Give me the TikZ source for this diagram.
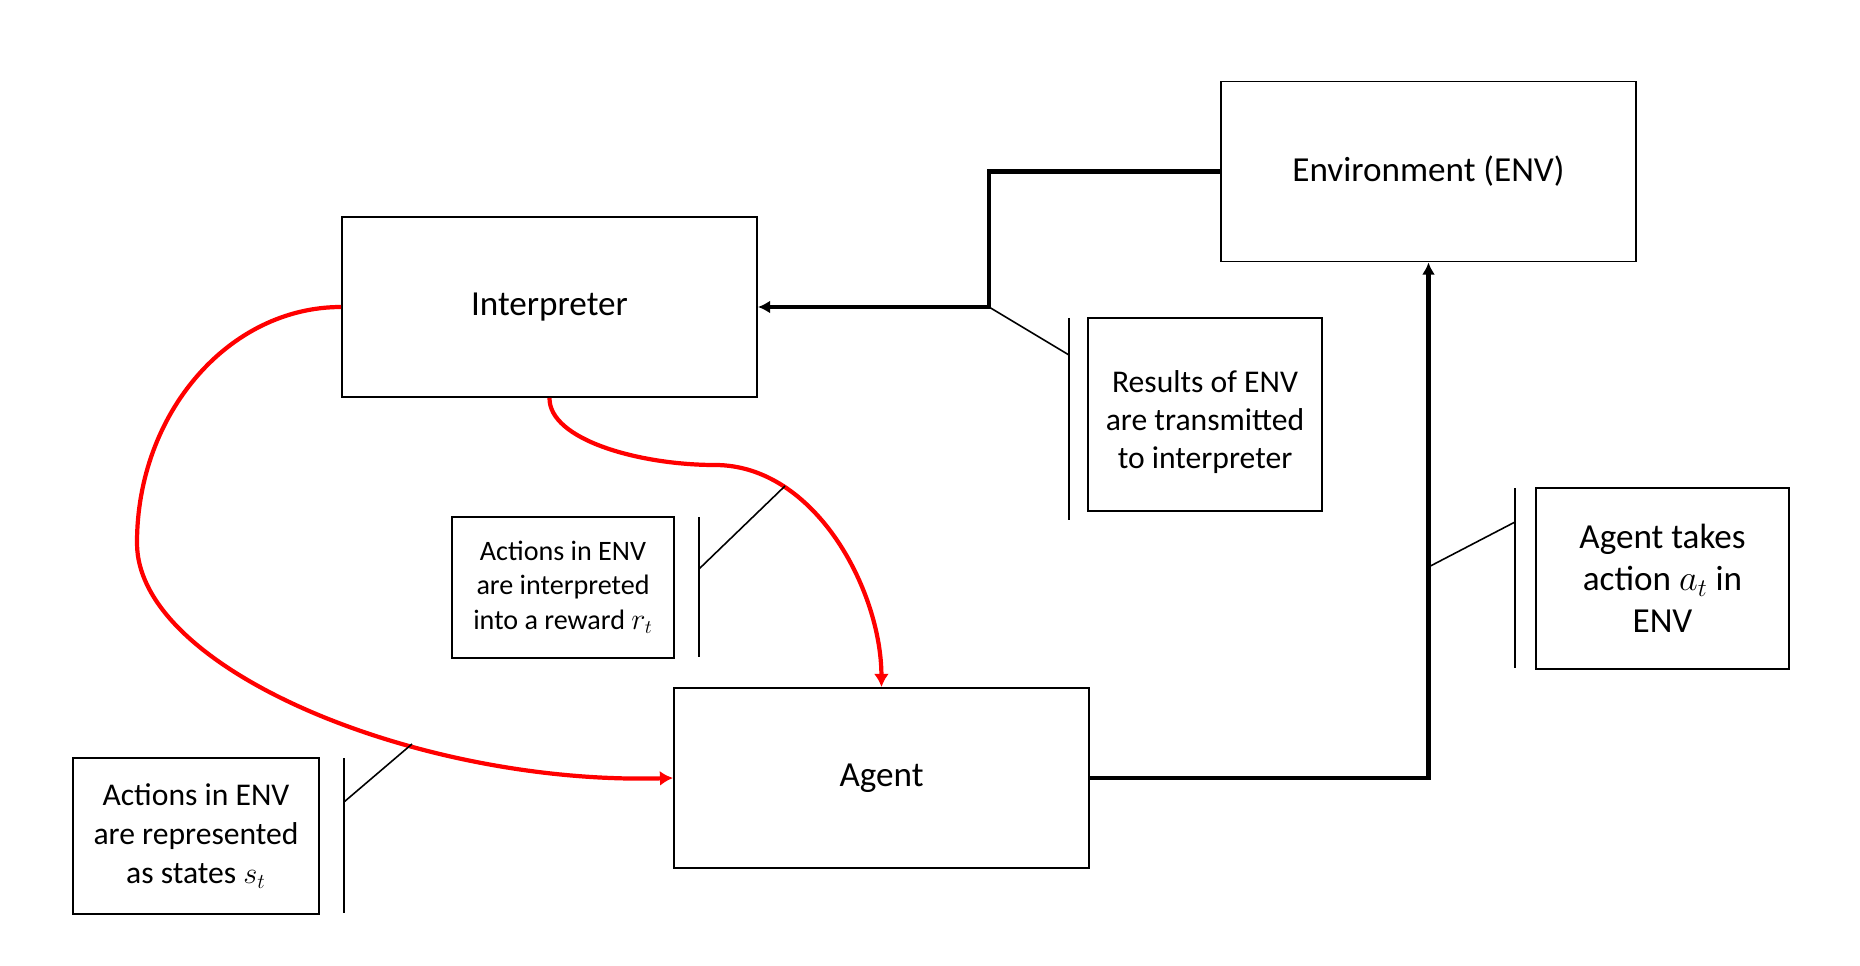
\documentclass[tikz,border=0pt]{standalone}
\usepackage{fontspec}
\setmainfont{Carlito}
\usetikzlibrary{arrows.meta}
\tikzset{
  big/.style={draw, line width=1.1pt, inner sep=0pt, minimum width=8.3cm, minimum height=3.6cm, font=\fontsize{20}{24}\selectfont},
  note/.style={draw, line width=1.1pt, inner sep=0pt, align=center},
  flow/.style={line width=2.3pt, -{Latex[length=7pt,width=7.5pt]}},
  redflow/.style={red, line width=2.4pt, -{Latex[length=7.5pt,width=8.5pt]}},
  bar/.style={line width=1.1pt},
  lead/.style={line width=0.9pt}
}
\begin{document}
\begin{tikzpicture}[x=0.02cm,y=-0.02cm]
\useasboundingbox (0,0) rectangle (1860,966);
\node[big] (env) at (1428.5,171.5) {Environment (ENV)};
\node[big] (interp) at (549.5,307) {Interpreter};
\node[big] (agent) at (881.5,778) {Agent};
\node[note, minimum width=4.68cm, minimum height=3.86cm, font=\fontsize{18}{21.8}\selectfont] (results) at (1205,414.5) {\rule{0pt}{21pt}Results of ENV\\are transmitted\\to interpreter};
\node[note, minimum width=4.44cm, minimum height=2.82cm, font=\fontsize{16}{19.5}\selectfont] (reward) at (563,587.5) {Actions in ENV\\are interpreted\\into a reward $r_t$};
\node[note, minimum width=4.92cm, minimum height=3.12cm, font=\fontsize{18}{22.2}\selectfont] (states) at (196,836) {Actions in ENV\\are represented\\as states $s_t$};
\node[note, minimum width=5.06cm, minimum height=3.62cm, font=\fontsize{20}{23.8}\selectfont] (takes) at (1662.5,578.5) {Agent takes\\action $a_t$ in\\ENV};
\coordinate (bend) at (989,307);
\coordinate (upbend) at (1428.5,567);
\coordinate (redtop) at (785,486);
\coordinate (redleft) at (412,744);
\draw[flow] (env.west) -| (bend) -- (interp.east);
\draw[flow] (agent.east) -| (env.south);
\draw[redflow] (interp.south) .. controls (549,440) and (640,465) .. (715,465)
  .. controls (815,465) and (881,590) .. (agent.north);
\draw[redflow] (interp.west) .. controls (229,307) and (137,413) .. (137,543)
  .. controls (137,670) and (420,785) .. (agent.west);
\draw[bar] (1069,318) -- (1069,520);
\draw[bar] (699,517) -- (699,657);
\draw[bar] (344,758) -- (344,913);
\draw[bar] (1515,488) -- (1515,668);
\draw[lead] (bend) -- (1069,355);
\draw[lead] (redtop) -- (699,569);
\draw[lead] (redleft) -- (344,802);
\draw[lead] (upbend) -- (1515,522);
\end{tikzpicture}
\end{document}
